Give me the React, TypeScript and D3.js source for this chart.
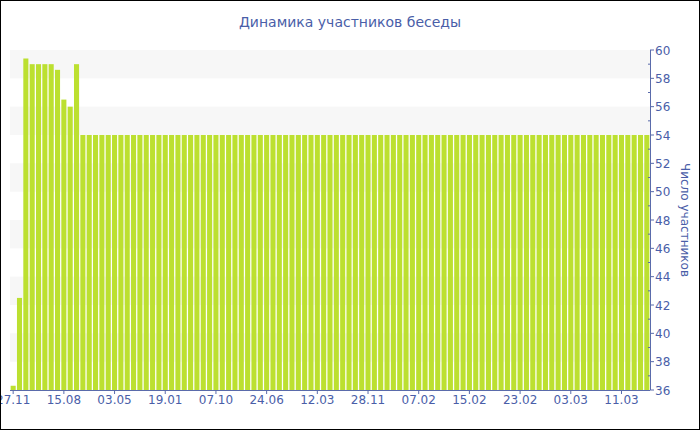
import React from "react";
import * as d3 from "d3";

const TITLE = "Динамика участников беседы";
const Y_TITLE = "Число участников";

const values: number[] = [
  36.3, 42.5, 59.4, 59, 59, 59, 59, 58.6, 56.5, 56, 59,
  54, 54, 54, 54, 54, 54, 54, 54, 54, 54,
  54, 54, 54, 54, 54, 54, 54, 54, 54, 54,
  54, 54, 54, 54, 54, 54, 54, 54, 54, 54,
  54, 54, 54, 54, 54, 54, 54, 54, 54, 54,
  54, 54, 54, 54, 54, 54, 54, 54, 54, 54,
  54, 54, 54, 54, 54, 54, 54, 54, 54, 54,
  54, 54, 54, 54, 54, 54, 54, 54, 54, 54,
  54, 54, 54, 54, 54, 54, 54, 54, 54, 54,
  54, 54, 54, 54, 54, 54, 54, 54, 54, 54,
];

const tickLabels: string[] = [
  "27.11", "15.08", "03.05", "19.01", "07.10", "24.06", "12.03",
  "28.11", "07.02", "15.02", "23.02", "03.03", "11.03",
];
const tickEvery = 8;

const yTicks: number[] = [36, 38, 40, 42, 44, 46, 48, 50, 52, 54, 56, 58, 60];
const yMinor: number[] = [37, 39, 41, 43, 45, 47, 49, 51, 53, 55, 57, 59];
const bandStarts: number[] = [58, 54, 50, 46, 42, 38];

const W = 700;
const H = 430;
const left = 10;
const right = 650;
const top = 50;
const bottom = 390;
const textColor = "#4a5ea8";
const axisColor = "#5a6bab";
const barColor = "#bce030";
const font = "'DejaVu Sans', Verdana, sans-serif";

export default function App() {
  const idx = values.map((_, i) => i);
  const x = d3.scaleBand<number>().domain(idx).range([left, right]).paddingInner(0.2).paddingOuter(0.1);
  const y = d3.scaleLinear().domain([36, 60]).range([bottom, top]);

  return (
    <svg width={W} height={H} style={{ position: "absolute", left: 0, top: 0, display: "block" }} fontFamily={font}>
      <rect x={0} y={0} width={W} height={H} fill="#fff" />
      {bandStarts.map((b) => (
        <rect key={b} x={left} y={y(b + 2)} width={right - left} height={y(b) - y(b + 2)} fill="#f7f7f7" />
      ))}
      {values.map((v, i) => (
        <rect key={i} x={x(i)!} y={y(v)} width={x.bandwidth()} height={bottom - y(v)} fill={barColor} />
      ))}
      {/* bottom axis */}
      <line x1={left} x2={right} y1={bottom + 0.5} y2={bottom + 0.5} stroke={axisColor} />
      {tickLabels.map((t, k) => {
        const cx = x(k * tickEvery)! + x.bandwidth() / 2;
        return (
          <g key={t + k}>
            <line x1={cx} x2={cx} y1={bottom} y2={bottom + 4} stroke={axisColor} />
            <text x={cx} y={404} textAnchor="middle" fontSize={12} fill={textColor}>{t}</text>
          </g>
        );
      })}
      {/* right axis */}
      <line x1={right + 0.5} x2={right + 0.5} y1={top} y2={bottom} stroke={axisColor} />
      {yTicks.map((t) => (
        <g key={t}>
          <line x1={right} x2={right + 4} y1={y(t)} y2={y(t)} stroke={axisColor} />
          <text x={right + 5} y={y(t) + 4.5} fontSize={12} fill={textColor}>{t}</text>
        </g>
      ))}
      {yMinor.map((t) => (
        <line key={t} x1={right - 2} x2={right} y1={y(t)} y2={y(t)} stroke={axisColor} />
      ))}
      <text
        transform={`translate(681, ${(top + bottom) / 2}) rotate(90)`}
        textAnchor="middle"
        fontSize={12}
        fill={textColor}
      >
        {Y_TITLE}
      </text>
      <text x={350} y={27} textAnchor="middle" fontSize={14} fill={textColor}>{TITLE}</text>
      <rect x={0.5} y={0.5} width={W - 1} height={H - 1} fill="none" stroke="#000" />
    </svg>
  );
}
